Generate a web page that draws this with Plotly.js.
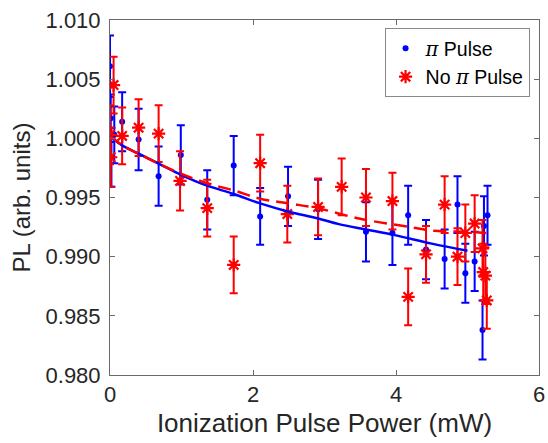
<!DOCTYPE html>
<html>
<head>
<meta charset="utf-8">
<script src="https://cdn.plot.ly/plotly-3.0.1.min.js"></script>
<style>html,body{margin:0;padding:0;background:#fff;}#chart{width:548px;height:443px;}</style>
</head>
<body>
<div id="chart"></div>
<script>
// π Pulse data
const piX   = [0.00, 0.01, 0.02, 0.06, 0.17, 0.40, 0.68, 0.99, 1.36, 1.73, 2.10, 2.49, 2.91, 3.58, 3.95, 4.17, 4.42, 4.68, 4.86, 4.97, 5.10, 5.21, 5.23, 5.28];
const piY   = [1.0061, 1.0017, 0.9984, 1.0003, 1.0014, 0.9999, 0.9968, 0.9986, 0.9948, 0.9977, 0.9934, 0.9951, 0.9940, 0.9921, 0.9920, 0.9935, 0.9906, 0.9898, 0.9944, 0.9886, 0.9896, 0.9838, 0.9926, 0.9935];
const piErr = [0.0026, 0.0020, 0.0025, 0.0024, 0.0025, 0.0026, 0.0025, 0.0025, 0.0025, 0.0025, 0.0024, 0.0025, 0.0025, 0.0025, 0.0027, 0.0025, 0.0025, 0.0025, 0.0024, 0.0025, 0.0025, 0.0025, 0.0025, 0.0025];

// No π Pulse data
const noX   = [0.00, 0.01, 0.05, 0.17, 0.40, 0.68, 0.98, 1.36, 1.73, 2.10, 2.48, 2.91, 3.24, 3.58, 3.95, 4.17, 4.42, 4.68, 4.86, 4.97, 5.10, 5.21, 5.22, 5.25, 5.27];
const noY   = [1.0003, 0.9984, 1.0045, 1.0002, 1.0009, 1.0004, 0.9964, 0.9941, 0.9893, 0.9979, 0.9936, 0.9942, 0.9959, 0.9950, 0.9947, 0.9866, 0.9902, 0.9944, 0.9900, 0.9920, 0.9928, 0.9907, 0.9887, 0.9884, 0.9863];
const noErr = [0.0025, 0.0025, 0.0024, 0.0024, 0.0024, 0.0024, 0.0025, 0.0024, 0.0024, 0.0024, 0.0024, 0.0024, 0.0024, 0.0024, 0.0024, 0.0024, 0.0024, 0.0024, 0.0024, 0.0024, 0.0024, 0.0024, 0.0024, 0.0024, 0.0024];

// fit curves
const piFitX = [0, 0.1, 0.2, 0.4, 0.7, 1.0, 1.36, 1.73, 2.1, 2.5, 2.9, 3.2, 3.58, 4.0, 4.5, 5.0];
const piFitY = [1.0002, 0.9997, 0.9993, 0.9987, 0.9978, 0.9969, 0.9960, 0.9953, 0.9945, 0.9938, 0.99325, 0.99275, 0.9923, 0.9918, 0.9911, 0.9905];
const noFitX = [0, 0.2, 0.4, 0.7, 1.0, 1.36, 1.73, 2.1, 2.5, 2.9, 3.5, 4.2, 4.5, 5.0, 5.27];
const noFitY = [1.0002, 0.9993, 0.9987, 0.9978, 0.9970, 0.9962, 0.9956, 0.9949, 0.9945, 0.9941, 0.9932, 0.9925, 0.9922, 0.9921, 0.9920];

const BLUE = '#0000ff', RED = '#ff0000';
const FONT = 'Liberation Sans, Arial, Helvetica, sans-serif';
const PI = '<span style="font-family:DejaVu Serif, serif"><i>π</i></span>';

const traces = [
  {
    x: piX, y: piY, type: 'scatter', mode: 'markers', name: PI + ' Pulse',
    marker: {color: BLUE, size: 6, symbol: 'circle'},
    error_y: {type: 'data', array: piErr, visible: true, color: BLUE, thickness: 2, width: 4}
  },
  {
    x: noX, y: noY, type: 'scatter', mode: 'markers', name: 'No ' + PI + ' Pulse',
    marker: {color: RED, size: 11, symbol: 'asterisk-open', line: {color: RED, width: 2.2}},
    error_y: {type: 'data', array: noErr, visible: true, color: RED, thickness: 2, width: 4}
  },
  {
    x: piFitX, y: piFitY, type: 'scatter', mode: 'lines', showlegend: false,
    line: {color: BLUE, width: 2.5, shape: 'spline'}
  },
  {
    x: noFitX, y: noFitY, type: 'scatter', mode: 'lines', showlegend: false,
    line: {color: RED, width: 2.5, dash: '13px,7px', shape: 'spline'}
  }
];

const axisCommon = {
  showline: true, linecolor: '#6a6a6a', linewidth: 1, mirror: 'ticks',
  ticks: 'inside', ticklen: 5, tickcolor: '#6a6a6a', tickwidth: 1,
  showgrid: false, zeroline: false,
  tickfont: {family: FONT, size: 22, color: '#262626'}
};

const layout = {
  width: 548, height: 443,
  margin: {l: 110, r: 9, t: 20, b: 68},
  paper_bgcolor: '#fff', plot_bgcolor: '#fff',
  font: {family: FONT, color: '#262626'},
  xaxis: Object.assign({}, axisCommon, {
    range: [0, 6], tickvals: [0, 2, 4, 6], ticktext: ['0', '2', '4', '6'],
    title: {text: 'Ionization Pulse Power (mW)', font: {family: FONT, size: 26, color: '#262626'}, standoff: 7}
  }),
  yaxis: Object.assign({}, axisCommon, {
    range: [0.980, 1.010], tickvals: [0.980, 0.985, 0.990, 0.995, 1.000, 1.005, 1.010],
    ticktext: ['0.980', '0.985', '0.990', '0.995', '1.000', '1.005', '1.010'],
    ticklabelstandoff: 4,
    title: {text: 'PL (arb. units)', font: {family: FONT, size: 24, color: '#262626'}, standoff: 8}
  }),
  legend: {
    x: 0.978, y: 0.977, xanchor: 'right', yanchor: 'top',
    bgcolor: '#ffffff', bordercolor: '#8a8a8a', borderwidth: 1,
    font: {family: FONT, size: 19.5, color: '#000'}
  },
  showlegend: true
};

Plotly.newPlot('chart', traces, layout, {displayModeBar: false, staticPlot: true});
</script>
</body>
</html>
